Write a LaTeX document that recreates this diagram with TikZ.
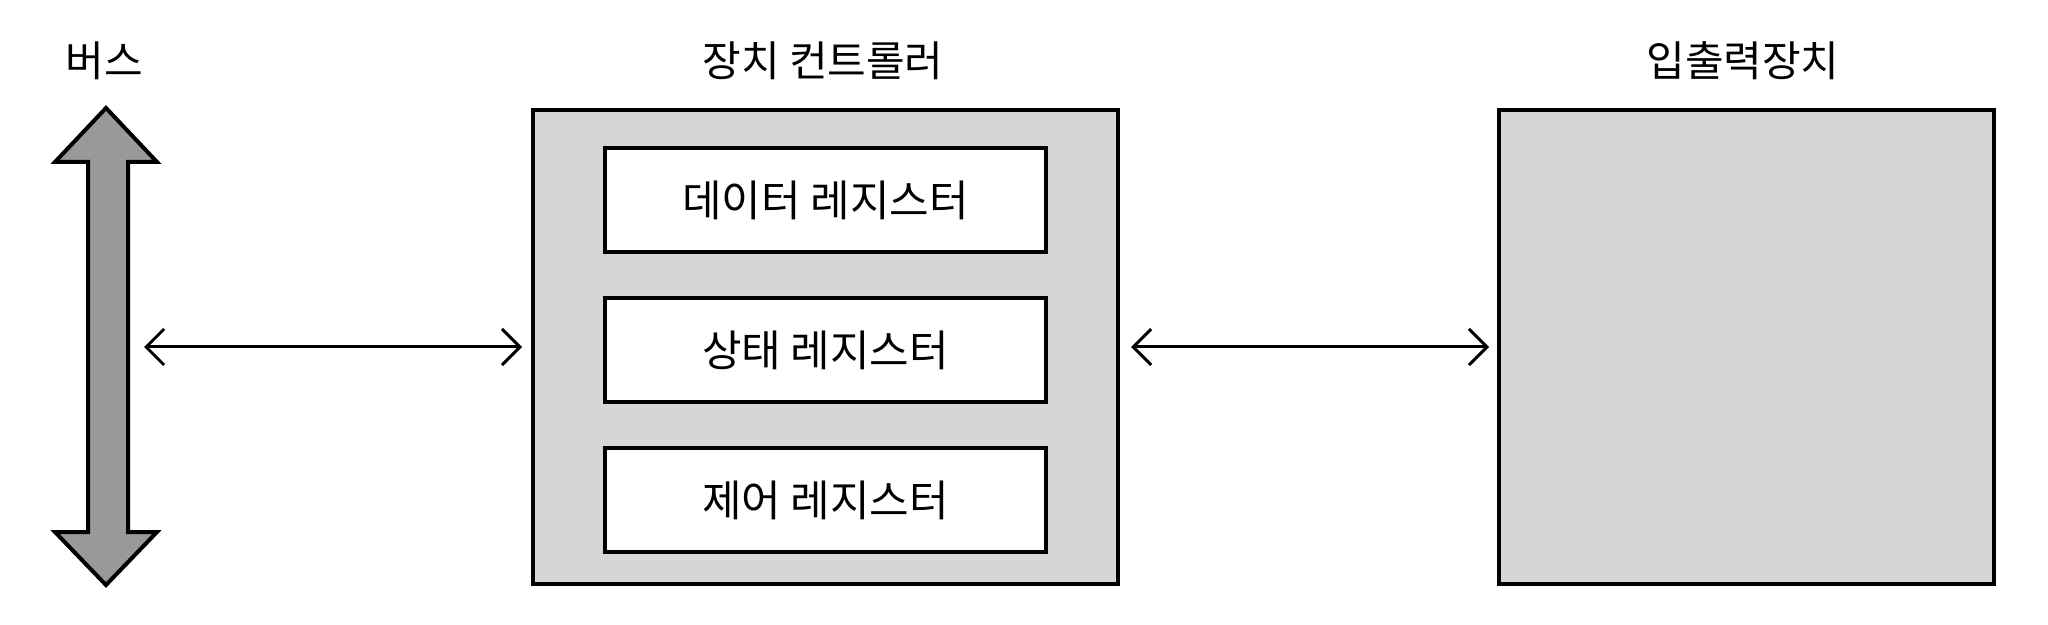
\documentclass[tikz,border=0pt]{standalone}
\usepackage{fontspec}
\newfontfamily\kr{Noto Sans CJK KR}
\usetikzlibrary{arrows.meta}
\definecolor{boxgray}{HTML}{D6D6D6}
\definecolor{busgray}{HTML}{999999}
\tikzset{
  outer/.style={draw=black, line width=2pt, fill=boxgray, inner sep=0pt, outer sep=0pt},
  regbox/.style={draw=black, line width=2pt, fill=white, inner sep=0pt, outer sep=0pt,
    minimum width=220.5pt, minimum height=52pt, font=\kr\fontsize{21.5pt}{24pt}\selectfont},
  title/.style={font=\kr\fontsize{21pt}{24pt}\selectfont, inner sep=0pt},
  link/.style={line width=1.5pt, {Straight Barb[length=9pt,width=18pt,line width=1.5pt]}-{Straight Barb[length=9pt,width=18pt,line width=1.5pt]}},
}
\begin{document}
\begin{tikzpicture}[x=0.5pt, y=-0.5pt]
\useasboundingbox (0,0) rectangle (2048,625);
% bus
\draw[line width=2pt, fill=busgray, line join=miter]
  (106,108) -- (157,162) -- (128,162) -- (128,532) -- (157,532) -- (106,585)
  -- (55,532) -- (88,532) -- (88,162) -- (55,162) -- cycle;
\coordinate (busR) at (128,347);
\node[title] (bustitle) at (104,61) {버스};
% controller
\node[outer, minimum width=292.5pt, minimum height=237pt] (ctrl) at (825.5,347) {};
\node[title] (ctrltitle) at (823,61) {장치 컨트롤러};
\node[regbox] (r1) at (825.5,200) {데이터 레지스터};
\node[regbox] (r2) at (825.5,350) {상태 레지스터};
\node[regbox] (r3) at (825.5,500) {제어 레지스터};
% io device
\node[outer, minimum width=247.5pt, minimum height=237pt] (io) at (1746.5,347) {};
\node[title] (iotitle) at (1743,61) {입출력장치};
% connectors
\draw[link, shorten <=8pt, shorten >=5.5pt] (busR) -- (ctrl.west);
\draw[link, shorten <=6.5pt, shorten >=5pt] (ctrl.east) -- (io.west);
\end{tikzpicture}
\end{document}
